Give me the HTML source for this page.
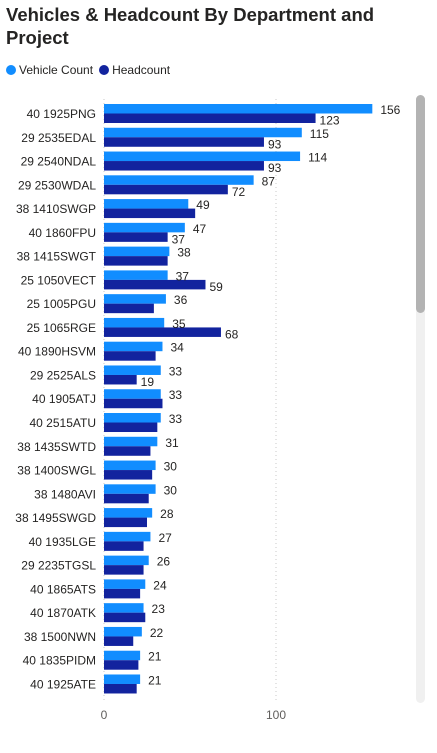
<!DOCTYPE html>
<html><head><meta charset="utf-8"><style>
body{margin:0;width:437px;height:753px;background:#fff;font-family:"Liberation Sans",sans-serif;overflow:hidden;position:relative}
#title{position:absolute;left:6px;top:3px;font-size:18.5px;font-weight:bold;color:#252423;line-height:23px;width:420px}
#legend{position:absolute;left:6px;top:63px;font-size:12px;color:#252423;display:flex;align-items:center}
.dot{width:10px;height:10px;border-radius:50%;display:inline-block;margin-right:3px}
</style></head><body>
<div id="title">Vehicles &amp; Headcount By Department and Project</div>
<div id="legend">
<span class="dot" style="background:#118DFF"></span><span style="margin-right:6px">Vehicle Count</span>
<span class="dot" style="background:#12239E"></span><span>Headcount</span>
</div>
<svg id="chart" width="437" height="753" style="position:absolute;left:0;top:0"></svg>
<script>
const categories=["40 1925PNG","29 2535EDAL","29 2540NDAL","29 2530WDAL","38 1410SWGP","40 1860FPU","38 1415SWGT","25 1050VECT","25 1005PGU","25 1065RGE","40 1890HSVM","29 2525ALS","40 1905ATJ","40 2515ATU","38 1435SWTD","38 1400SWGL","38 1480AVI","38 1495SWGD","40 1935LGE","29 2235TGSL","40 1865ATS","40 1870ATK","38 1500NWN","40 1835PIDM","40 1925ATE"];
const vehicles=[156,115,114,87,49,47,38,37,36,35,34,33,33,33,31,30,30,28,27,26,24,23,22,21,21];
const headcount=[123,93,93,72,53,37,37,59,29,68,30,19,34,31,27,28,26,25,23,23,21,24,17,20,19];
const showHc=[1,1,1,1,0,1,0,1,0,1,0,1,0,0,0,0,0,0,0,0,0,0,0,0,0];
const xTicks=[0,100];
const NS="http://www.w3.org/2000/svg";
const svg=document.getElementById('chart');
const x0=104,scale=1.72,y0=104,pitch=23.77,bh=9.5;
const X=v=>x0+v*scale;
const Y=i=>y0+i*pitch;
function mk(t,a){const e=document.createElementNS(NS,t);for(const k in a)e.setAttribute(k,a[k]);svg.appendChild(e);return e;}
xTicks.forEach(t=>{
 const l=mk('line',{x1:X(t),x2:X(t),y1:99,y2:702,stroke:'#c8c8c8','stroke-dasharray':'1,3'});
 
 
 const tx=mk('text',{x:X(t),y:719,'font-size':12,fill:'#605E5C','text-anchor':'middle'});
 tx.textContent=t;
 
 
});
categories.forEach((c,i)=>{
 const y=Y(i);
 const lb=mk('text',{x:96,y:y+14,'font-size':12,fill:'#252423','text-anchor':'end'});
 lb.textContent=c;
 
 
 const b1=mk('rect',{x:x0,y:y,width:vehicles[i]*scale,height:bh,fill:'#118DFF'});
 
 
 const b2=mk('rect',{x:x0,y:y+bh,width:headcount[i]*scale,height:bh,fill:'#12239E'});
 
 
 const v1=mk('text',{x:X(vehicles[i])+8,y:y+10,'font-size':12,fill:'#252423'});
 v1.textContent=vehicles[i];
 
 
 if(showHc[i]){
  const v2=mk('text',{x:X(headcount[i])+4,y:y+bh+11,'font-size':12,fill:'#252423'});
  v2.textContent=headcount[i];
  
  
 }
});
const tr=mk('rect',{x:416,y:95,width:9,height:608,rx:4.5,fill:'#f0f0f0'});


const th=mk('rect',{x:416,y:95,width:9,height:218,rx:4.5,fill:'#b3b3b3'});


</script>
</body></html>
